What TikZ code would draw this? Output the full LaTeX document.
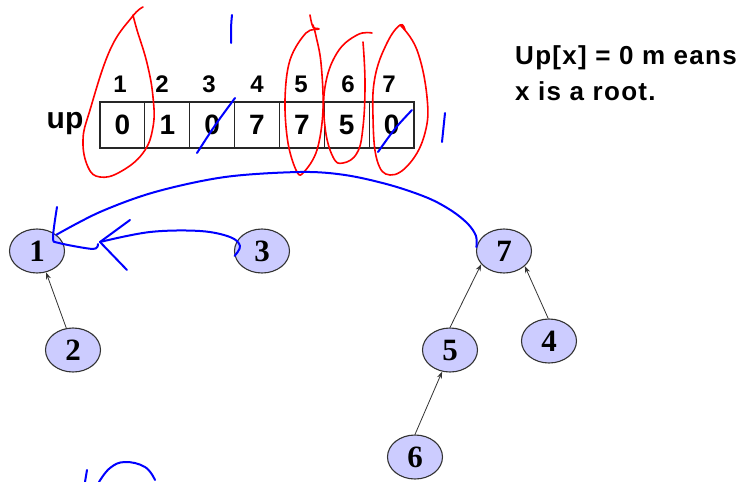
\documentclass[tikz,border=0pt]{standalone}
\usepackage{fontspec}
\setmainfont{Liberation Serif}
\newfontfamily\tablefont{Liberation Sans}
\newfontfamily\notefont[LetterSpace=5]{Liberation Sans}
\usetikzlibrary{shapes.geometric,arrows.meta}

\definecolor{nodefill}{RGB}{204,204,255}
\definecolor{ink}{RGB}{0,0,255}
\definecolor{pen}{RGB}{255,0,0}

\begin{document}
\begin{tikzpicture}[x=1pt,y=-1pt,
  cell/.style={draw=black!85, line width=1.2pt, minimum width=44.86pt,
    minimum height=46pt, inner sep=0pt,
    font=\tablefont\bfseries\fontsize{28}{30}\selectfont},
  idx/.style={inner sep=0pt, font=\tablefont\bfseries\fontsize{24}{26}\selectfont},
  vertex/.style={ellipse, draw=black!80, line width=1.1pt, fill=nodefill,
    minimum width=55pt, minimum height=44pt, inner sep=0pt,
    font=\bfseries\fontsize{31}{33}\selectfont},
  link/.style={-{Stealth[length=7pt,width=5pt]}, line width=0.8pt, draw=black!80},
  bluepen/.style={draw=ink, line width=2pt, line cap=round, line join=round},
  redpen/.style={draw=pen, line width=1.6pt, line cap=round, line join=round},
  note/.style={anchor=base west, inner sep=0pt,
    font=\notefont\bfseries\fontsize{26}{30}\selectfont},
]
\useasboundingbox[fill=white] (0,0) rectangle (745,482);

% the "up" array
\node[inner sep=0pt, font=\tablefont\bfseries\fontsize{30}{32}\selectfont]
  (uplabel) at (65,124) {up};
\foreach \v [count=\i] in {0,1,0,7,7,5,0} {
  \node[cell] (c\i) at ({100+44.86*(\i-0.5)},125) {\v};
}
\foreach \x [count=\i] in {120,162,209,257,301,348,389} {
  \node[idx] (i\i) at (\x,84) {\i};
}

% explanatory note
\node[note] (note1) at (515,64) {Up[x] = 0 m eans};
\node[note] (note2) at (515,100) {x is a root.};

% forest of up-pointers
\node[vertex] (n1) at (37,251) {1};
\node[vertex] (n3) at (262,251) {3};
\node[vertex] (n2) at (73,350) {2};
\node[vertex] (n7) at (504,251) {7};
\node[vertex] (n5) at (450,350) {5};
\node[vertex] (n4) at (549,341) {4};
\node[vertex] (n6) at (415,457) {6};

\draw[link] (n2.107) -- (n1.-67);
\draw[link] (n5.90) -- (n7.210);
\draw[link] (n4.92) -- (n7.-36);
\draw[link] (n6.90) -- (n5.-110);

% red pen loops around the roots' columns
\draw[redpen] plot[smooth, tension=0.7] coordinates {
  (143,7) (132,17) (110,50) (90,110) (83,140) (88,167) (100,177)
  (120,172) (143,153) (153,127) (153,97) (147,63) (137,30) (133,15)};
\draw[redpen] plot[smooth, tension=0.6] coordinates {
  (310,15) (313,27) (319,29) (306,33) (290,60) (285,100) (288,143)
  (297,172) (304,172) (317,150) (323,110) (321,63) (316,36) (313,25)};
\draw[redpen] plot[smooth, tension=0.7] coordinates {
  (372,33) (357,35) (337,53) (325,87) (325,127) (333,157) (343,163)
  (357,153) (363,127) (365,83) (363,42)};
\draw[redpen] plot[smooth, tension=0.7] coordinates {
  (405,30) (400,25) (387,43) (375,77) (373,117) (377,160) (390,175)
  (410,163) (425,133) (427,97) (417,50) (401,26)};

% blue pen marks on the array
\draw[bluepen] (232,15) .. controls (231,25) .. (231,43);
\draw[bluepen] (197,153) .. controls (215,125) .. (235,98);
\draw[bluepen] (378,152) .. controls (395,128) .. (412,110);
\draw[bluepen] (445,113) .. controls (443,128) .. (442,142);

% blue pen: root 7 linked under root 1
\draw[bluepen] plot[smooth, tension=0.55] coordinates {
  (n7.172) (476,236) (468,224) (452,211) (428,198) (390,185)
  (345,175) (300,172) (225,177) (155,192) (100,212) (n1.40)};

% blue pen: root 3 linked under root 1
\draw[bluepen] plot[smooth, tension=0.6] coordinates {
  (n3.190) (240,246) (230,237) (200,231) (150,232) (100,242)};
\draw[bluepen] (130,220) -- (100,242) -- (127,270);
\draw[bluepen] plot[smooth, tension=0.5] coordinates {
  (57,207) (53,238) (59,243) (93,249) (98,244)};

% blue pen scribble at the bottom edge
\draw[bluepen] (87,470) -- (85,482);
\draw[bluepen] plot[smooth, tension=0.7] coordinates {
  (99,482) (110,468) (125,462) (145,467) (155,480)};
\end{tikzpicture}
\end{document}
